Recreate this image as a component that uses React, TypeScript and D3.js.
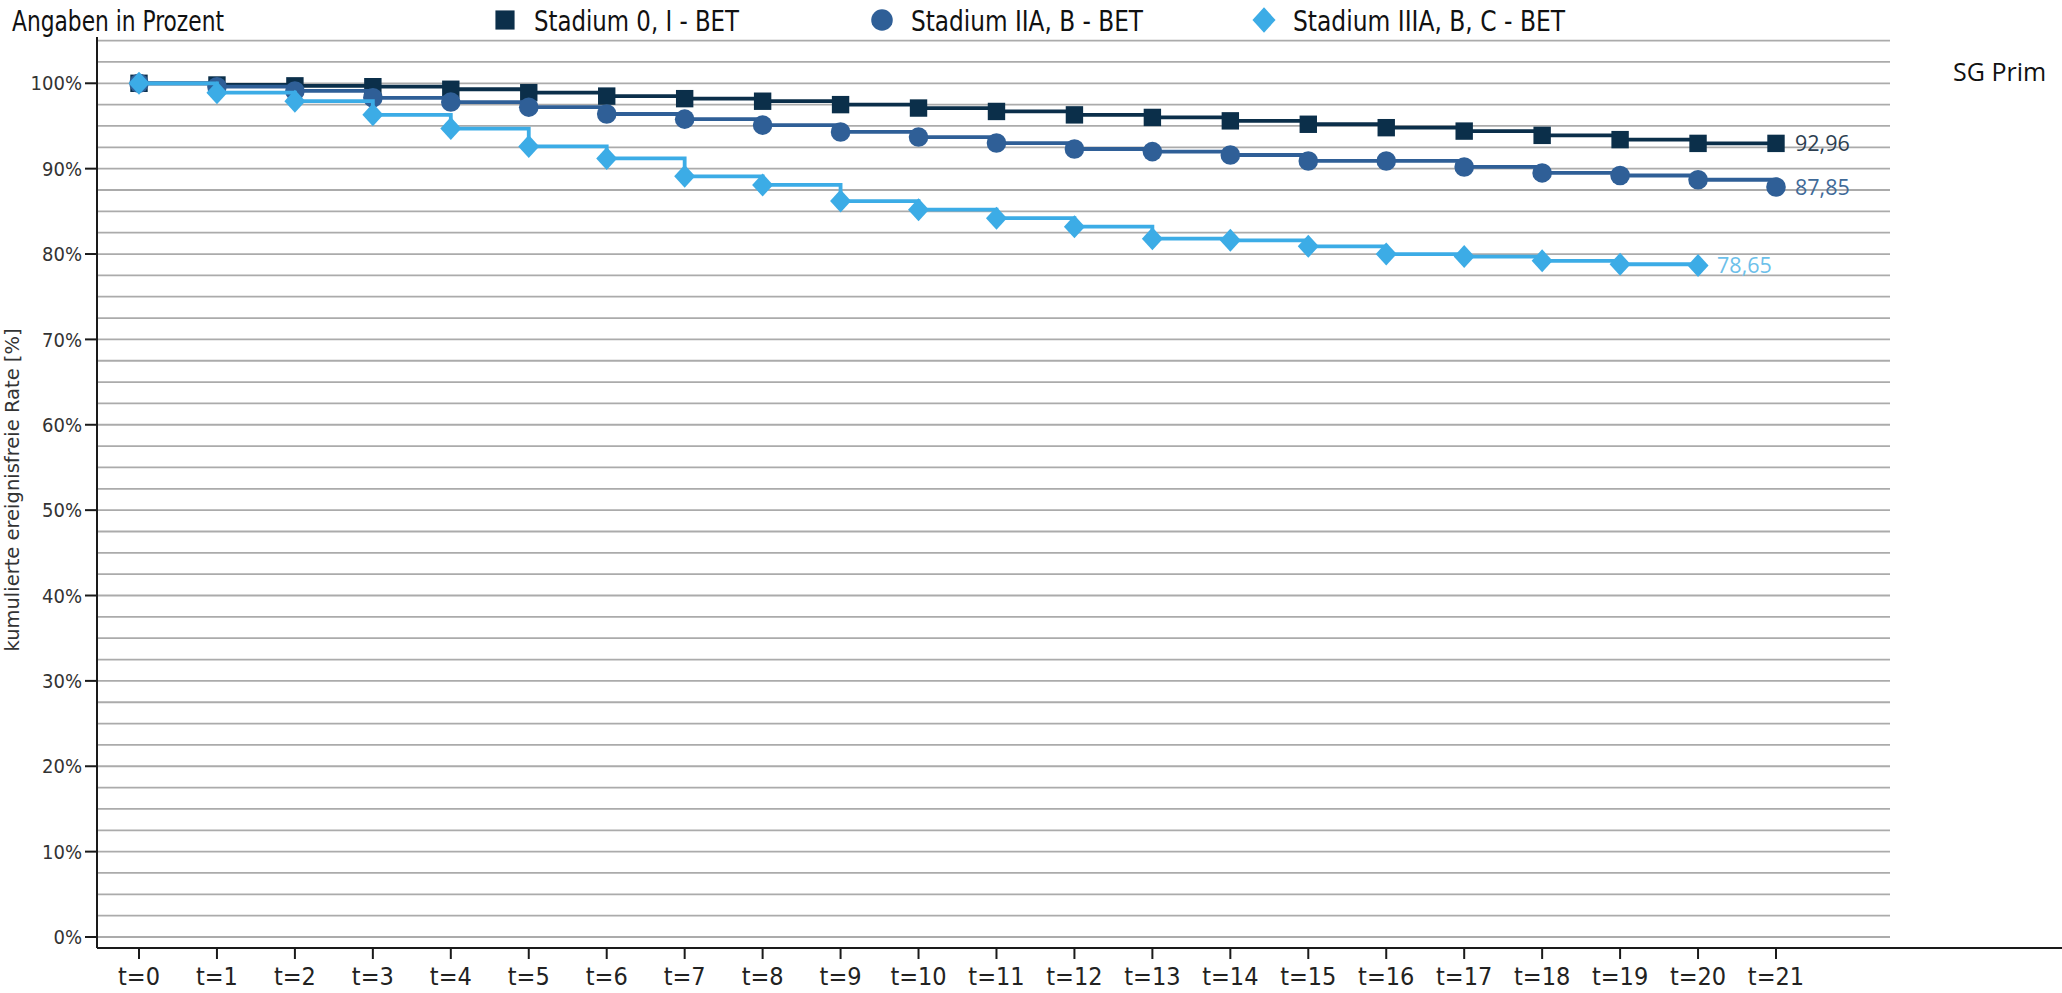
import React from "react";
import * as d3 from "d3";

const timeLabels = ["t=0","t=1","t=2","t=3","t=4","t=5","t=6","t=7","t=8","t=9","t=10","t=11","t=12","t=13","t=14","t=15","t=16","t=17","t=18","t=19","t=20","t=21"];
const seriesNames = ["Stadium 0, I - BET", "Stadium IIA, B - BET", "Stadium IIIA, B, C - BET"];
const stage0I = [100, 99.8, 99.7, 99.6, 99.3, 98.9, 98.5, 98.2, 97.9, 97.5, 97.1, 96.7, 96.3, 96.0, 95.6, 95.2, 94.8, 94.4, 93.9, 93.4, 92.96, 92.96];
const stage2 = [100, 99.6, 99.1, 98.3, 97.8, 97.2, 96.4, 95.8, 95.1, 94.3, 93.7, 93.0, 92.3, 92.0, 91.6, 90.9, 90.9, 90.2, 89.5, 89.2, 88.7, 87.85];
const stage3 = [100, 98.9, 97.9, 96.3, 94.7, 92.6, 91.2, 89.1, 88.1, 86.2, 85.2, 84.2, 83.2, 81.8, 81.6, 80.9, 80.0, 79.7, 79.2, 78.8, 78.65];
const endLabels = ["92,96", "87,85", "78,65"];
const yTickValues = [0, 10, 20, 30, 40, 50, 60, 70, 80, 90, 100];
const colors = ["#0b2f4a", "#2f5f97", "#3cace6"];
const labelColors = ["#2c3e50", "#3f6a98", "#6cc0ea"];
const markerTypes = ["square", "circle", "diamond"];

const W = 2062, H = 993;
const cond = "'DejaVu Sans Condensed', 'DejaVu Sans', sans-serif";

function Marker({ type, x, y, color, s = 1 }: { type: string; x: number; y: number; color: string; s?: number }) {
  if (type === "square") return <rect x={x - 8.7 * s} y={y - 8.7 * s} width={17.4 * s} height={17.4 * s} fill={color} />;
  if (type === "circle") return <circle cx={x} cy={y} r={9.8 * s} fill={color} />;
  const w = 10.5 * s, h = 11.5 * s;
  return <path d={`M${x},${y - h}L${x + w},${y}L${x},${y + h}L${x - w},${y}Z`} fill={color} />;
}

export default function App() {
  const x = d3.scaleLinear().domain([0, 21]).range([139, 1776]);
  const y = d3.scaleLinear().domain([0, 105]).range([937, 40.6]);
  const axisX = 97, axisY = 948, gridRight = 1890;
  const grid = d3.range(0, 105.01, 2.5);
  const series = [stage0I, stage2, stage3];
  const line = d3.line<number>().x((_, i) => x(i)).y((d) => y(d)).curve(d3.curveStepAfter);

  const legendX = [505, 882, 1264];
  const legendTextLen = [205, 232, 272];

  return (
    <svg width={W} height={H} style={{ position: "absolute", left: 0, top: 0, background: "#fff" }}>
      <rect x={0} y={0} width={W} height={H} fill="#fff" />
      {grid.map((g) => (
        <line key={g} x1={axisX} x2={gridRight} y1={y(g)} y2={y(g)} stroke="#ababab" strokeWidth={1.8} />
      ))}
      {/* axes */}
      <line x1={axisX} x2={axisX} y1={37} y2={axisY} stroke="#1a1a1a" strokeWidth={2} />
      <line x1={axisX} x2={W} y1={axisY} y2={axisY} stroke="#1a1a1a" strokeWidth={2} />
      {yTickValues.map((v) => (
        <g key={v}>
          <line x1={axisX - 12} x2={axisX} y1={y(v)} y2={y(v)} stroke="#1a1a1a" strokeWidth={2} />
          <text x={axisX - 15} y={y(v)} dy="0.36em" textAnchor="end" fontFamily={cond} fontSize={20} fill="#333">
            {v}%
          </text>
        </g>
      ))}
      {timeLabels.map((t, i) => (
        <g key={t}>
          <line x1={x(i)} x2={x(i)} y1={axisY} y2={axisY + 11} stroke="#1a1a1a" strokeWidth={2} />
          <text x={x(i)} y={985} textAnchor="middle" fontFamily={cond} fontSize={25} fill="#222">
            {t}
          </text>
        </g>
      ))}
      <text transform={`translate(19,${490}) rotate(-90)`} textAnchor="middle" fontFamily="'DejaVu Sans', sans-serif" fontSize={19.5} fill="#333">
        kumulierte ereignisfreie Rate [%]
      </text>
      {/* series */}
      {series.map((data, si) => (
        <g key={si}>
          <path d={line(data) || ""} fill="none" stroke={colors[si]} strokeWidth={3.8} />
          {data.map((d, i) => (
            <Marker key={i} type={markerTypes[si]} x={x(i)} y={y(d)} color={colors[si]} />
          ))}
          <text
            x={x(data.length - 1) + 19}
            y={y(data[data.length - 1])}
            dy="0.36em"
            fontFamily="'Open Sans', sans-serif"
            fontSize={21.5}
            fill={labelColors[si]}
          >
            {endLabels[si]}
          </text>
        </g>
      ))}
      {/* header */}
      <text x={12} y={31} fontFamily={cond} fontSize={28} fill="#111" textLength={212} lengthAdjust="spacingAndGlyphs">
        Angaben in Prozent
      </text>
      {seriesNames.map((n, i) => (
        <g key={n}>
          <Marker type={markerTypes[i]} x={legendX[i]} y={20} color={colors[i]} s={1.1} />
          <text x={legendX[i] + 29} y={31} fontFamily={cond} fontSize={28} fill="#111" textLength={legendTextLen[i]} lengthAdjust="spacingAndGlyphs">
            {n}
          </text>
        </g>
      ))}
      <text x={1953} y={81} fontFamily="'Open Sans', sans-serif" fontSize={25} fill="#111">
        SG Prim
      </text>
    </svg>
  );
}
